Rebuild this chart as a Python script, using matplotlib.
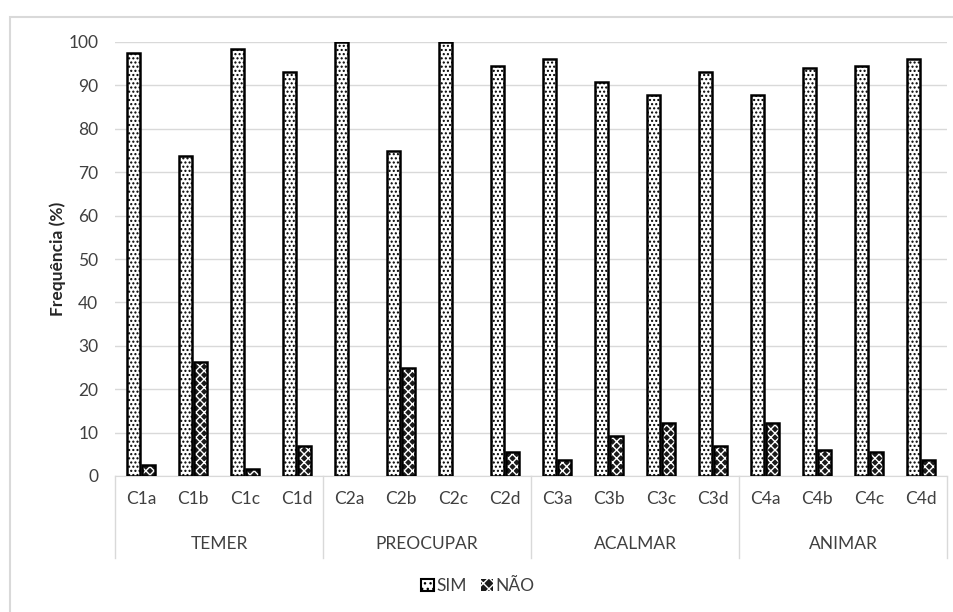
import matplotlib
matplotlib.use("Agg")
import matplotlib.pyplot as plt
from matplotlib.patches import Patch, Rectangle
import numpy as np

plt.rcParams['font.family'] = ['Lato', 'DejaVu Sans']

grupos = ['TEMER', 'PREOCUPAR', 'ACALMAR', 'ANIMAR']
itens = ['C1a', 'C1b', 'C1c', 'C1d', 'C2a', 'C2b', 'C2c', 'C2d',
         'C3a', 'C3b', 'C3c', 'C3d', 'C4a', 'C4b', 'C4c', 'C4d']
sim = [97.5, 73.7, 98.4, 93.2, 100.0, 75.0, 100.0, 94.5,
       96.0, 90.8, 87.8, 93.2, 87.8, 93.9, 94.5, 96.0]
nao = [2.5, 26.3, 1.6, 6.8, 0.0, 25.0, 0.0, 5.5,
       3.8, 9.2, 12.2, 6.8, 12.2, 6.1, 5.5, 3.8]

W, H = 954, 612
fig = plt.figure(figsize=(W / 100, H / 100), dpi=100)
ax = fig.add_axes([115 / W, 1 - 476 / H, (947 - 115) / W, (476 - 42) / H])

# moldura externa cinza (sai da imagem à direita e embaixo)
fig.patches.append(Rectangle((10 / W, -0.5), 1.5, 1.5 - 17 / H, transform=fig.transFigure,
                             fill=False, edgecolor='#d9d9d9', linewidth=1.5))

x = np.arange(len(itens))
larg = 0.26
ax.bar(x - larg / 2 - 0.01, sim, larg, color='white', edgecolor='black',
       hatch='....', linewidth=1.8, zorder=3)
lw_nao = [1.8 if v > 0 else 0 for v in nao]
ax.bar(x + larg / 2 + 0.01, nao, larg, color='#1a1a1a', edgecolor='white',
       hatch='xxxx', linewidth=0, zorder=3)
ax.bar(x + larg / 2 + 0.01, nao, larg, color='none', edgecolor='black',
       linewidth=lw_nao, zorder=4)

ax.set_xlim(-0.5, len(itens) - 0.5)
ax.set_ylim(0, 100)
ax.set_yticks(range(0, 101, 10))
ax.yaxis.grid(True, color='#d9d9d9', linewidth=1)
ax.set_axisbelow(True)
for s in ['top', 'right', 'left']:
    ax.spines[s].set_visible(False)
ax.spines['bottom'].set_color('#d9d9d9')
ax.tick_params(axis='y', length=0, labelsize=12.5, colors='#404040', pad=12)
ax.tick_params(axis='x', length=0, labelsize=12.5, colors='#404040', pad=11)
ax.set_xticks(x)
ax.set_xticklabels(itens)
ax.set_ylabel('Frequência (%)', fontsize=12.5, fontweight='bold', color='#262626',
              labelpad=2)

# rótulos de grupo e separadores
trans = ax.get_xaxis_transform()
for i in range(len(grupos) + 1):
    ax.plot([i * 4 - 0.5, i * 4 - 0.5], [0, -0.19], transform=trans,
            color='#d9d9d9', linewidth=1, clip_on=False)
for i, g in enumerate(grupos):
    ax.text(i * 4 + 1.5, -0.157, g, transform=trans, ha='center', va='center',
            fontsize=12.5, color='#404040')

handles = [Patch(facecolor='white', edgecolor='black', hatch='...', linewidth=1.5),
           Patch(facecolor='#1a1a1a', edgecolor='white', hatch='xxx', linewidth=0)]
fig.legend(handles, ['SIM', 'NÃO'], loc='center', bbox_to_anchor=(478 / W, 1 - 586 / H),
           ncol=2, frameon=False, fontsize=12.5, handlelength=0.7, handleheight=0.7,
           handletextpad=0.15, columnspacing=0.8, labelcolor='#404040')

fig.savefig('out.png', dpi=100)
